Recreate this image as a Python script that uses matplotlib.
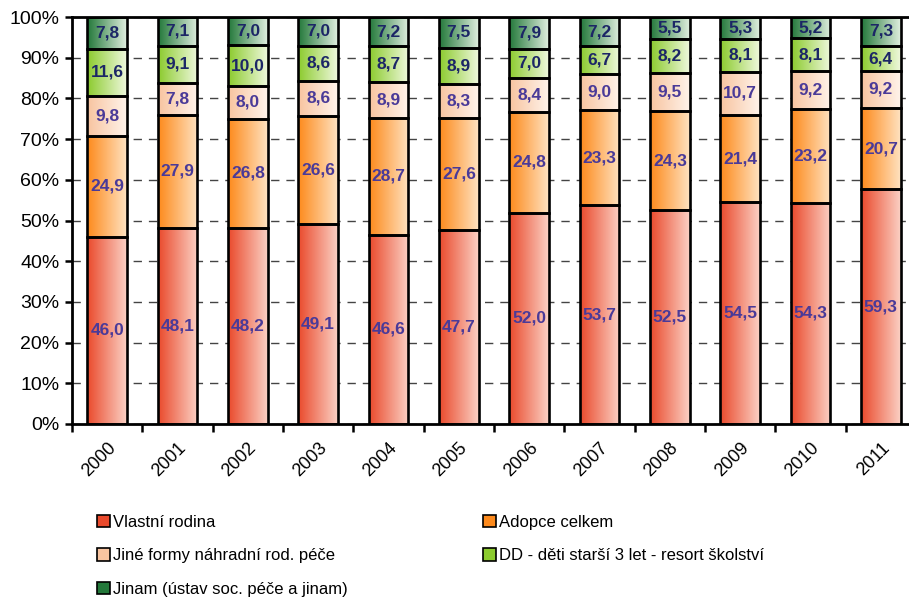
import matplotlib
matplotlib.use("Agg")
import matplotlib.pyplot as plt
from matplotlib.colors import LinearSegmentedColormap
from matplotlib.patches import Patch
import numpy as np

plt.rcParams['font.family'] = ['Liberation Sans', 'DejaVu Sans']

# data: shares (%) of children by placement, per year
years = ['2000', '2001', '2002', '2003', '2004', '2005',
         '2006', '2007', '2008', '2009', '2010', '2011']
vlastni = [46.0, 48.1, 48.2, 49.1, 46.6, 47.7, 52.0, 53.7, 52.5, 54.5, 54.3, 59.3]
adopce = [24.9, 27.9, 26.8, 26.6, 28.7, 27.6, 24.8, 23.3, 24.3, 21.4, 23.2, 20.7]
jine = [9.8, 7.8, 8.0, 8.6, 8.9, 8.3, 8.4, 9.0, 9.5, 10.7, 9.2, 9.2]
dd = [11.6, 9.1, 10.0, 8.6, 8.7, 8.9, 7.0, 6.7, 8.2, 8.1, 8.1, 6.4]
jinam = [7.8, 7.1, 7.0, 7.0, 7.2, 7.5, 7.9, 7.2, 5.5, 5.3, 5.2, 7.3]

series = [vlastni, adopce, jine, dd, jinam]
names = ['Vlastní rodina', 'Adopce celkem', 'Jiné formy náhradní rod. péče',
         'DD - děti starší 3 let - resort školství', 'Jinam (ústav soc. péče a jinam)']
# left (dark) -> right (light) gradient colours of each bar segment
grads = [('#ea4a2c', '#fbd0c4'),
         ('#fd8a1c', '#ffe2c0'),
         ('#f8c4a0', '#fff3ea'),
         ('#8ccb2e', '#eef8dc'),
         ('#23783a', '#dfeede')]
txt_cols = ['#4a3a98', '#4a3a98', '#4a3a98', '#1c2666', '#1c2666']

fig = plt.figure(figsize=(9.09, 6.05), dpi=100)
ax = fig.add_axes([72 / 909, 181 / 605, 844 / 909, 407 / 605])

x = np.arange(len(years))
width = 0.56
# 100 % stacked: each column is scaled to its total
totals = np.sum(series, axis=0)
bottom = np.zeros(len(years))
grad = np.linspace(0, 1, 64).reshape(1, -1)
for vals, (c0, c1), tc in zip(series, grads, txt_cols):
    cmap = LinearSegmentedColormap.from_list('g', [c0, c1])
    heights = np.array(vals) / totals * 100
    bars = ax.bar(x, heights, width, bottom=bottom, facecolor='none',
                  edgecolor='black', linewidth=1.9, zorder=3)
    for b, v in zip(bars, vals):
        x0, y0 = b.get_x(), b.get_y()
        ax.imshow(grad, cmap=cmap, aspect='auto', zorder=2,
                  extent=(x0, x0 + b.get_width(), y0, y0 + b.get_height()))
        ax.text(x0 + b.get_width() / 2, y0 + b.get_height() / 2,
                f'{v:.1f}'.replace('.', ','), ha='center', va='center',
                fontsize=12.5, fontweight='bold', color=tc, zorder=4)
    bottom += heights

ax.set_xlim(-0.5, len(years) - 0.5)
ax.set_ylim(0, 100)
ax.set_yticks(np.arange(0, 101, 10))
ax.set_yticklabels([f'{v}%' for v in range(0, 101, 10)], fontsize=14)
ax.set_xticks(x)
ax.set_xticklabels(years, rotation=45, ha='right', rotation_mode='anchor', fontsize=13)
ax.set_xticks(np.arange(-0.5, len(years), 1), minor=True)
ax.tick_params(axis='x', which='major', length=0, pad=11)
ax.tick_params(axis='x', which='minor', length=6, width=1.8, direction='out')
ax.tick_params(axis='y', length=5, width=1.8, direction='out', pad=4)
ax.yaxis.grid(True, linestyle=(0, (6, 5)), color='#444444', linewidth=1.0, zorder=0)
ax.set_axisbelow(True)
for s in ['left', 'bottom', 'top']:
    ax.spines[s].set_linewidth(2)
ax.spines['right'].set_visible(False)

handles = [Patch(facecolor=c0, edgecolor='black', linewidth=1.2) for c0, _ in grads]
kw = dict(frameon=False, fontsize=12, handlelength=0.75, handleheight=0.75,
          handletextpad=0.2, labelspacing=1.1, borderaxespad=0, borderpad=0)
fig.legend([handles[0], handles[2], handles[4]], [names[0], names[2], names[4]],
           loc='upper left', bbox_to_anchor=(97 / 909, 1 - 515 / 605), **kw)
fig.legend([handles[1], handles[3]], [names[1], names[3]],
           loc='upper left', bbox_to_anchor=(483 / 909, 1 - 515 / 605), **kw)

fig.savefig('out.png', dpi=100)
